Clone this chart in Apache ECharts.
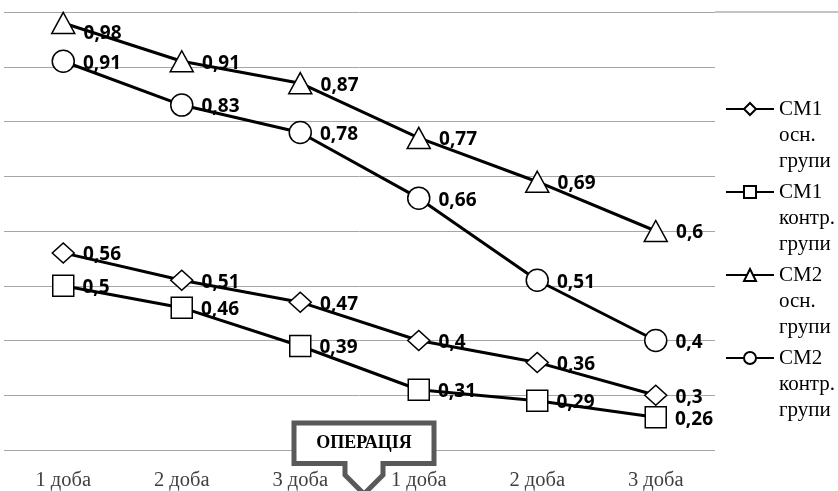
<!DOCTYPE html>
<html>
<head>
<meta charset="utf-8">
<script src="https://cdn.jsdelivr.net/npm/echarts@6/dist/echarts.min.js"></script>
<style>
  html, body { margin: 0; padding: 0; background: #fff; }
  #chart { width: 838px; height: 491px; }
</style>
</head>
<body>
<div id="chart"></div>
<script>
// Days before and after the operation
const days = ['1 доба', '2 доба', '3 доба', '1 доба', '2 доба', '3 доба'];

// Series names (legend)
const seriesNames = ['СМ1 осн. групи', 'СМ1 контр. групи', 'СМ2 осн. групи', 'СМ2 контр. групи'];

// Values per series
const cm1Main    = [0.56, 0.51, 0.47, 0.40, 0.36, 0.30];
const cm1Control = [0.50, 0.46, 0.39, 0.31, 0.29, 0.26];
const cm2Main    = [0.98, 0.91, 0.87, 0.77, 0.69, 0.60];
const cm2Control = [0.91, 0.83, 0.78, 0.66, 0.51, 0.40];

// Value axis range
const yMin = 0.2;
const yMax = 1.0;
const yStep = 0.1;

const operationText = 'ОПЕРАЦІЯ';

const chart = echarts.init(document.getElementById('chart'), null, { renderer: 'canvas' });

const labelFont = { fontFamily: 'Open Sans', fontWeight: 'bold', fontSize: 19, color: '#000' };
const fmt = p => String(p.value).replace('.', ',');

function makeSeries(name, values, symbol, size, firstLabelOffset) {
  return {
    name: name,
    type: 'line',
    data: values.map((v, i) => (i === 0 && firstLabelOffset)
      ? { value: v, label: { offset: firstLabelOffset } }
      : v),
    symbol: symbol,
    symbolSize: size,
    showAllSymbol: true,
    lineStyle: { color: '#000', width: 3 },
    itemStyle: { color: '#fff', borderColor: '#000', borderWidth: 1.5 },
    label: Object.assign({ show: true, position: 'right', distance: 8, offset: [0, 2], formatter: fmt }, labelFont),
    emphasis: { disabled: true },
    animation: false
  };
}

// Legend text: two blank lines above keep the first line level with the icon
const legendFormatter = n => '\n\n' + n.split(' ').join('\n');

const option = {
  backgroundColor: '#fff',
  animation: false,
  grid: { left: 4, right: 123, top: 12, bottom: 40, containLabel: false },
  xAxis: {
    type: 'category',
    data: days,
    boundaryGap: true,
    axisLine: { show: false },
    axisTick: { show: false },
    axisLabel: { fontFamily: 'Liberation Serif', fontSize: 20.5, color: '#404040', margin: 20, interval: 0 }
  },
  yAxis: {
    type: 'value',
    min: yMin,
    max: yMax,
    interval: yStep,
    axisLabel: { show: false },
    axisLine: { show: false },
    axisTick: { show: false },
    splitLine: { lineStyle: { color: '#a6a6a6', width: 1 } }
  },
  legend: {
    orient: 'vertical',
    left: 725,
    top: 44,
    padding: 0,
    itemWidth: 48,
    itemHeight: 15,
    itemGap: -47,
    selectedMode: false,
    data: seriesNames,
    formatter: legendFormatter,
    textStyle: { fontFamily: 'Liberation Serif', fontSize: 21, lineHeight: 26, color: '#000' }
  },
  series: [
    makeSeries(seriesNames[0], cm1Main, 'diamond', [22, 20]),
    makeSeries(seriesNames[1], cm1Control, 'rect', 21),
    makeSeries(seriesNames[2], cm2Main, 'triangle', [23, 21], [0, 11]),
    makeSeries(seriesNames[3], cm2Control, 'circle', 22)
  ]
};

chart.setOption(option);

// Callout between the 3rd and 4th day marking the operation
const x3 = chart.convertToPixel({ xAxisIndex: 0 }, 2);
const x4 = chart.convertToPixel({ xAxisIndex: 0 }, 3);
const cx = (x3 + x4) / 2 + 4.5;
const topY = chart.convertToPixel({ yAxisIndex: 0 }, yMax);

chart.setOption({
  graphic: [
    {
      type: 'line',
      shape: { x1: 715, y1: topY, x2: 838, y2: topY },
      style: { stroke: '#888', lineWidth: 1 },
      silent: true
    },
    {
      type: 'polygon',
      shape: {
        points: [
          [cx - 70, 423], [cx + 70, 423], [cx + 70, 463.5], [cx + 19, 463.5],
          [cx + 19, 475], [cx, 494], [cx - 19, 475], [cx - 19, 463.5], [cx - 70, 463.5]
        ]
      },
      style: { fill: '#fff', stroke: '#595959', lineWidth: 5, lineJoin: 'miter' },
      z: 100,
      silent: true
    },
    {
      type: 'text',
      x: cx,
      y: 443,
      style: {
        text: operationText,
        fontFamily: 'Liberation Serif',
        fontWeight: 'bold',
        fontSize: 18,
        fill: '#000',
        align: 'center',
        verticalAlign: 'middle'
      },
      z: 101,
      silent: true
    }
  ]
});
</script>
</body>
</html>
